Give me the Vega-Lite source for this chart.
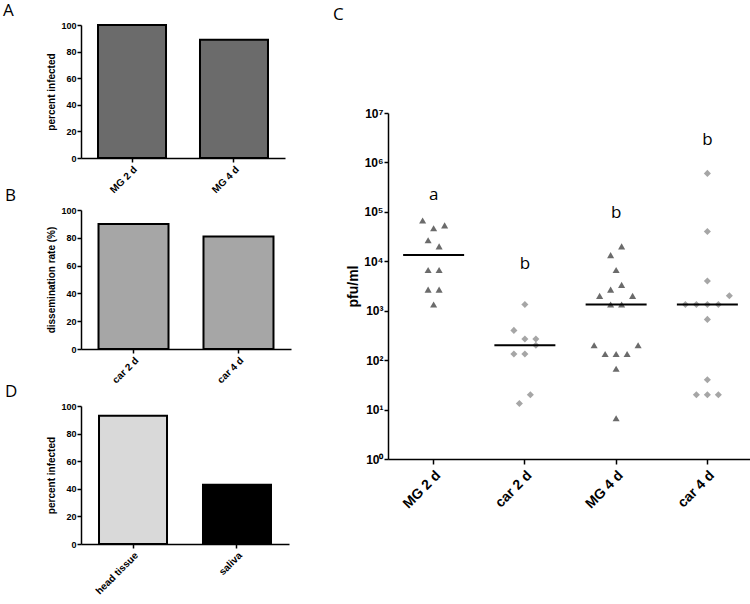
{
  "$schema": "https://vega.github.io/schema/vega-lite/v6.json",
  "padding": {"left": 3, "top": 2, "right": 0, "bottom": 0},
  "background": "white",
  "config": {
    "view": {"stroke": null},
    "axis": {
      "labelFont": "Liberation Sans", "labelFontWeight": "bold", "labelColor": "#000",
      "titleFont": "Liberation Sans", "titleFontWeight": "bold", "titleColor": "#000",
      "domainColor": "#000", "tickColor": "#000", "grid": false,
      "domainWidth": 1.5, "tickWidth": 1.5, "tickSize": 4
    },
    "title": {"font": "Open Sans", "fontWeight": "normal", "fontSize": 17, "color": "#000", "anchor": "start", "frame": "group"}
  },
  "datasets": {
    "A": [{"g": "MG 2 d", "pct": 100}, {"g": "MG 4 d", "pct": 89}],
    "B": [{"g": "car 2 d", "pct": 90}, {"g": "car 4 d", "pct": 81}],
    "D": [{"g": "head tissue", "pct": 93}, {"g": "saliva", "pct": 43}],
    "pts": [
      {"group": "MG 2 d", "kind": "MG", "pfu": 66667, "col": -2},
      {"group": "MG 2 d", "kind": "MG", "pfu": 53333, "col": 2},
      {"group": "MG 2 d", "kind": "MG", "pfu": 46667, "col": 0},
      {"group": "MG 2 d", "kind": "MG", "pfu": 26667, "col": -1},
      {"group": "MG 2 d", "kind": "MG", "pfu": 20000, "col": 1},
      {"group": "MG 2 d", "kind": "MG", "pfu": 6667, "col": -1},
      {"group": "MG 2 d", "kind": "MG", "pfu": 6667, "col": 1},
      {"group": "MG 2 d", "kind": "MG", "pfu": 2667, "col": -1},
      {"group": "MG 2 d", "kind": "MG", "pfu": 2667, "col": 1},
      {"group": "MG 2 d", "kind": "MG", "pfu": 1333, "col": 0},
      {"group": "car 2 d", "kind": "car", "pfu": 1333, "col": 0},
      {"group": "car 2 d", "kind": "car", "pfu": 400, "col": -2},
      {"group": "car 2 d", "kind": "car", "pfu": 267, "col": 0},
      {"group": "car 2 d", "kind": "car", "pfu": 267, "col": 2},
      {"group": "car 2 d", "kind": "car", "pfu": 200, "col": 2},
      {"group": "car 2 d", "kind": "car", "pfu": 133, "col": -2},
      {"group": "car 2 d", "kind": "car", "pfu": 133, "col": 0},
      {"group": "car 2 d", "kind": "car", "pfu": 20, "col": 1},
      {"group": "car 2 d", "kind": "car", "pfu": 13.3, "col": -1},
      {"group": "MG 4 d", "kind": "MG", "pfu": 20000, "col": 1},
      {"group": "MG 4 d", "kind": "MG", "pfu": 13333, "col": -1},
      {"group": "MG 4 d", "kind": "MG", "pfu": 6667, "col": 0},
      {"group": "MG 4 d", "kind": "MG", "pfu": 3333, "col": 1},
      {"group": "MG 4 d", "kind": "MG", "pfu": 2667, "col": -1},
      {"group": "MG 4 d", "kind": "MG", "pfu": 2000, "col": -3},
      {"group": "MG 4 d", "kind": "MG", "pfu": 2000, "col": 3},
      {"group": "MG 4 d", "kind": "MG", "pfu": 1333, "col": -1},
      {"group": "MG 4 d", "kind": "MG", "pfu": 1333, "col": 1},
      {"group": "MG 4 d", "kind": "MG", "pfu": 200, "col": -4},
      {"group": "MG 4 d", "kind": "MG", "pfu": 200, "col": 4},
      {"group": "MG 4 d", "kind": "MG", "pfu": 133, "col": -2},
      {"group": "MG 4 d", "kind": "MG", "pfu": 133, "col": 0},
      {"group": "MG 4 d", "kind": "MG", "pfu": 133, "col": 2},
      {"group": "MG 4 d", "kind": "MG", "pfu": 67, "col": 0},
      {"group": "MG 4 d", "kind": "MG", "pfu": 6.67, "col": 0},
      {"group": "car 4 d", "kind": "car", "pfu": 600000, "col": 0},
      {"group": "car 4 d", "kind": "car", "pfu": 40000, "col": 0},
      {"group": "car 4 d", "kind": "car", "pfu": 4000, "col": 0},
      {"group": "car 4 d", "kind": "car", "pfu": 2000, "col": 4},
      {"group": "car 4 d", "kind": "car", "pfu": 1333, "col": -4},
      {"group": "car 4 d", "kind": "car", "pfu": 1333, "col": -2},
      {"group": "car 4 d", "kind": "car", "pfu": 1333, "col": 0},
      {"group": "car 4 d", "kind": "car", "pfu": 1333, "col": 2},
      {"group": "car 4 d", "kind": "car", "pfu": 667, "col": 0},
      {"group": "car 4 d", "kind": "car", "pfu": 40, "col": 0},
      {"group": "car 4 d", "kind": "car", "pfu": 20, "col": -2},
      {"group": "car 4 d", "kind": "car", "pfu": 20, "col": 0},
      {"group": "car 4 d", "kind": "car", "pfu": 20, "col": 2}
    ],
    "letters": [
      {"group": "MG 2 d", "pos": 220000, "txt": "a"},
      {"group": "car 2 d", "pos": 9000, "txt": "b"},
      {"group": "MG 4 d", "pos": 93000, "txt": "b"},
      {"group": "car 4 d", "pos": 2900000, "txt": "b"}
    ]
  },
  "resolve": {"scale": {"color": "independent", "shape": "independent"}},
  "hconcat": [
    {
      "resolve": {"scale": {"color": "independent"}},
      "vconcat": [
        {
          "data": {"name": "A"},
          "title": {"text": "A", "dx": -78, "offset": 1},
          "width": 204, "height": 133,
          "mark": {"type": "bar", "color": "#6b6b6b", "stroke": "#000", "strokeWidth": 2, "width": 68},
          "encoding": {
            "x": {"field": "g", "type": "nominal", "sort": null, "title": null,
                  "scale": {"type": "band", "paddingInner": 0.333, "paddingOuter": 0.1667},
                  "axis": {"labelAngle": -45, "labelFontSize": 10}},
            "y": {"field": "pct", "type": "quantitative", "title": "percent infected",
                  "scale": {"domain": [0, 100]},
                  "axis": {"values": [0, 20, 40, 60, 80, 100], "labelFontSize": 9, "titleFontSize": 10, "labelPadding": 1}}
          }
        },
        {
          "resolve": {"scale": {"color": "independent"}},
          "vconcat": [
            {
              "data": {"name": "B"},
              "title": {"text": "B", "dx": -76, "offset": 1},
              "width": 210, "height": 139,
              "mark": {"type": "bar", "color": "#a6a6a6", "stroke": "#000", "strokeWidth": 2, "width": 70},
              "encoding": {
                "x": {"field": "g", "type": "nominal", "sort": null, "title": null,
                      "scale": {"type": "band", "paddingInner": 0.333, "paddingOuter": 0.1667},
                      "axis": {"labelAngle": -45, "labelFontSize": 10}},
                "y": {"field": "pct", "type": "quantitative", "title": "dissemination rate (%)",
                      "scale": {"domain": [0, 100]},
                      "axis": {"values": [0, 20, 40, 60, 80, 100], "labelFontSize": 9, "titleFontSize": 10, "labelPadding": 1}}
              }
            },
            {
              "data": {"name": "D"},
              "title": {"text": "D", "dx": -76, "offset": 1},
              "width": 208, "height": 138,
              "mark": {"type": "bar", "stroke": "#000", "strokeWidth": 2, "width": 68},
              "encoding": {
                "x": {"field": "g", "type": "nominal", "sort": null, "title": null,
                      "scale": {"type": "band", "paddingInner": 0.333, "paddingOuter": 0.1667},
                      "axis": {"labelAngle": -45, "labelFontSize": 10}},
                "y": {"field": "pct", "type": "quantitative", "title": "percent infected",
                      "scale": {"domain": [0, 100]},
                      "axis": {"values": [0, 20, 40, 60, 80, 100], "labelFontSize": 9, "titleFontSize": 10, "labelPadding": 1}},
                "color": {"field": "g", "type": "nominal", "legend": null,
                          "scale": {"domain": ["head tissue", "saliva"], "range": ["#d9d9d9", "#000000"]}}
              }
            }
          ],
          "spacing": -2
        }
      ],
      "spacing": -8
    },
    {
      "resolve": {"scale": {"color": "independent", "shape": "independent"}},
      "vconcat": [
        {
          "title": {"text": "C", "dx": -55, "offset": 1},
          "width": 365, "height": 1,
          "data": {"values": []},
          "mark": {"type": "point", "opacity": 0},
          "encoding": {}
        },
        {
          "width": 365, "height": 346,
          "layer": [
            {
              "data": {"name": "pts"},
              "mark": {"type": "point", "filled": true, "size": 50, "opacity": 1},
              "encoding": {
                "x": {"field": "group", "type": "nominal", "sort": ["MG 2 d", "car 2 d", "MG 4 d", "car 4 d"], "title": null,
                      "scale": {"paddingInner": 0, "paddingOuter": 0},
                      "axis": {"labelAngle": -45, "labelFontSize": 14, "tickSize": 5, "labelPadding": 4}},
                "xOffset": {"field": "col", "type": "quantitative", "scale": {"domain": [-8.3, 8.3]}},
                "y": {"field": "pfu", "type": "quantitative", "title": "pfu/ml",
                      "scale": {"type": "log", "domain": [1, 10000000], "nice": false},
                      "axis": {"values": [1, 10, 100, 1000, 10000, 100000, 1000000, 10000000],
                               "labelExpr": "'10' + ['⁰','¹','²','³','⁴','⁵','⁶','⁷'][round(log(datum.value)/LN10)]",
                               "labelFontSize": 12, "titleFontSize": 14, "labelPadding": 1, "titlePadding": 3}},
                "color": {"field": "kind", "type": "nominal", "legend": null,
                          "scale": {"domain": ["MG", "car"], "range": ["#6b6b6b", "#a6a6a6"]}},
                "shape": {"field": "kind", "type": "nominal", "legend": null,
                          "scale": {"domain": ["MG", "car"], "range": ["triangle-up", "diamond"]}}
              }
            },
            {
              "data": {"name": "pts"},
              "mark": {"type": "tick", "color": "#000", "size": 61, "thickness": 2},
              "encoding": {
                "x": {"field": "group", "type": "nominal", "sort": ["MG 2 d", "car 2 d", "MG 4 d", "car 4 d"]},
                "y": {"field": "pfu", "type": "quantitative", "aggregate": "median"}
              }
            },
            {
              "data": {"name": "letters"},
              "mark": {"type": "text", "font": "Open Sans", "fontSize": 17, "color": "#000", "baseline": "middle"},
              "encoding": {
                "x": {"field": "group", "type": "nominal", "sort": ["MG 2 d", "car 2 d", "MG 4 d", "car 4 d"]},
                "y": {"field": "pos", "type": "quantitative"},
                "text": {"field": "txt"}
              }
            }
          ]
        }
      ],
      "spacing": 81
    }
  ],
  "spacing": 42
}
